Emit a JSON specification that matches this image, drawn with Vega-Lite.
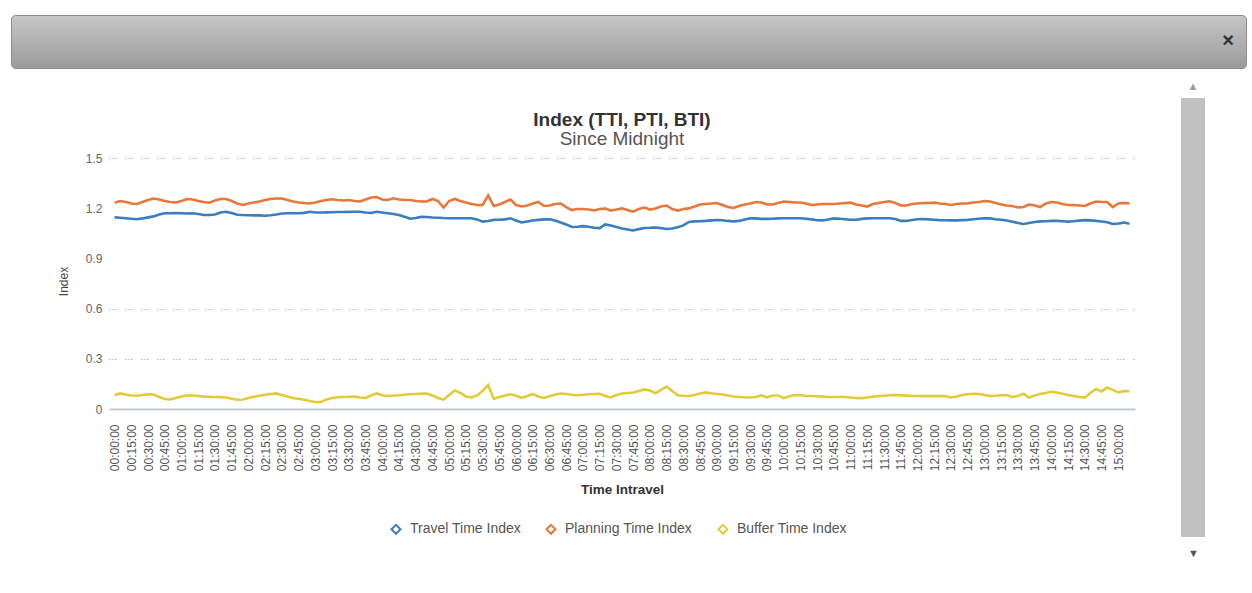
{
 "$schema": "https://vega.github.io/schema/vega-lite/v6.json",
 "background": "white",
 "padding": {"left": 10, "top": 14, "right": 7, "bottom": 5},
 "spacing": 12,
 "config": {"font": "Liberation Sans", "view": {"stroke": null}},
 "vconcat": [
  {
   "width": 1235, "height": 53,
   "view": {"fill": {"gradient": "linear", "x1": 0, "y1": 0, "x2": 0, "y2": 1, "stops": [{"offset": 0, "color": "#c6c6c6"}, {"offset": 1, "color": "#9b9b9b"}]}, "stroke": "#8c8c8c", "cornerRadius": 4},
   "title": {"text": "×", "anchor": "end", "orient": "top", "offset": -26, "baseline": "middle", "dx": -12, "dy": 20, "fontSize": 20, "fontWeight": "bold", "color": "#333"},
   "data": {"values": []},
   "mark": "rect",
   "encoding": {}
  },
  {
   "spacing": 43,
   "hconcat": [
    {
     "width": 1124, "height": 311,
     "title": {"text": "Index (TTI, PTI, BTI)", "subtitle": "Since Midnight", "frame": "group", "anchor": "middle", "dx": 49, "offset": -51, "fontSize": 19, "fontWeight": "bold", "color": "#333", "subtitleFontSize": 19, "subtitleColor": "#555", "subtitlePadding": 0},
     "data": {"values": [
{"t":"00:00:00","tti":1.145,"pti":1.233,"bti":0.084},
{"t":"00:05:00","tti":1.143,"pti":1.243,"bti":0.093},
{"t":"00:10:00","tti":1.140,"pti":1.237,"bti":0.087},
{"t":"00:15:00","tti":1.137,"pti":1.228,"bti":0.081},
{"t":"00:20:00","tti":1.134,"pti":1.225,"bti":0.079},
{"t":"00:25:00","tti":1.139,"pti":1.237,"bti":0.084},
{"t":"00:30:00","tti":1.145,"pti":1.249,"bti":0.088},
{"t":"00:35:00","tti":1.151,"pti":1.258,"bti":0.087},
{"t":"00:40:00","tti":1.162,"pti":1.252,"bti":0.072},
{"t":"00:45:00","tti":1.170,"pti":1.243,"bti":0.060},
{"t":"00:50:00","tti":1.170,"pti":1.237,"bti":0.057},
{"t":"00:55:00","tti":1.171,"pti":1.234,"bti":0.066},
{"t":"01:00:00","tti":1.170,"pti":1.243,"bti":0.075},
{"t":"01:05:00","tti":1.168,"pti":1.255,"bti":0.082},
{"t":"01:10:00","tti":1.170,"pti":1.252,"bti":0.081},
{"t":"01:15:00","tti":1.165,"pti":1.243,"bti":0.078},
{"t":"01:20:00","tti":1.159,"pti":1.237,"bti":0.074},
{"t":"01:25:00","tti":1.159,"pti":1.233,"bti":0.073},
{"t":"01:30:00","tti":1.162,"pti":1.246,"bti":0.072},
{"t":"01:35:00","tti":1.174,"pti":1.255,"bti":0.071},
{"t":"01:40:00","tti":1.179,"pti":1.255,"bti":0.069},
{"t":"01:45:00","tti":1.171,"pti":1.243,"bti":0.061},
{"t":"01:50:00","tti":1.161,"pti":1.228,"bti":0.055},
{"t":"01:55:00","tti":1.159,"pti":1.219,"bti":0.057},
{"t":"02:00:00","tti":1.158,"pti":1.228,"bti":0.066},
{"t":"02:05:00","tti":1.157,"pti":1.234,"bti":0.073},
{"t":"02:10:00","tti":1.157,"pti":1.240,"bti":0.079},
{"t":"02:15:00","tti":1.155,"pti":1.249,"bti":0.085},
{"t":"02:20:00","tti":1.158,"pti":1.255,"bti":0.090},
{"t":"02:25:00","tti":1.162,"pti":1.258,"bti":0.093},
{"t":"02:30:00","tti":1.168,"pti":1.258,"bti":0.084},
{"t":"02:35:00","tti":1.170,"pti":1.249,"bti":0.075},
{"t":"02:40:00","tti":1.170,"pti":1.240,"bti":0.066},
{"t":"02:45:00","tti":1.170,"pti":1.234,"bti":0.061},
{"t":"02:50:00","tti":1.172,"pti":1.231,"bti":0.055},
{"t":"02:55:00","tti":1.179,"pti":1.229,"bti":0.048},
{"t":"03:00:00","tti":1.174,"pti":1.234,"bti":0.042},
{"t":"03:05:00","tti":1.174,"pti":1.243,"bti":0.042},
{"t":"03:10:00","tti":1.175,"pti":1.249,"bti":0.057},
{"t":"03:15:00","tti":1.176,"pti":1.253,"bti":0.066},
{"t":"03:20:00","tti":1.177,"pti":1.249,"bti":0.070},
{"t":"03:25:00","tti":1.177,"pti":1.246,"bti":0.072},
{"t":"03:30:00","tti":1.178,"pti":1.249,"bti":0.073},
{"t":"03:35:00","tti":1.179,"pti":1.243,"bti":0.074},
{"t":"03:40:00","tti":1.179,"pti":1.240,"bti":0.069},
{"t":"03:45:00","tti":1.174,"pti":1.252,"bti":0.066},
{"t":"03:50:00","tti":1.171,"pti":1.264,"bti":0.081},
{"t":"03:55:00","tti":1.179,"pti":1.267,"bti":0.093},
{"t":"04:00:00","tti":1.174,"pti":1.252,"bti":0.082},
{"t":"04:05:00","tti":1.170,"pti":1.249,"bti":0.078},
{"t":"04:10:00","tti":1.165,"pti":1.259,"bti":0.081},
{"t":"04:15:00","tti":1.159,"pti":1.252,"bti":0.082},
{"t":"04:20:00","tti":1.149,"pti":1.249,"bti":0.085},
{"t":"04:25:00","tti":1.137,"pti":1.249,"bti":0.088},
{"t":"04:30:00","tti":1.141,"pti":1.243,"bti":0.090},
{"t":"04:35:00","tti":1.148,"pti":1.240,"bti":0.092},
{"t":"04:40:00","tti":1.147,"pti":1.240,"bti":0.093},
{"t":"04:45:00","tti":1.144,"pti":1.255,"bti":0.081},
{"t":"04:50:00","tti":1.143,"pti":1.243,"bti":0.066},
{"t":"04:55:00","tti":1.141,"pti":1.204,"bti":0.057},
{"t":"05:00:00","tti":1.140,"pti":1.243,"bti":0.084},
{"t":"05:05:00","tti":1.140,"pti":1.255,"bti":0.111},
{"t":"05:10:00","tti":1.140,"pti":1.243,"bti":0.096},
{"t":"05:15:00","tti":1.140,"pti":1.234,"bti":0.075},
{"t":"05:20:00","tti":1.140,"pti":1.225,"bti":0.069},
{"t":"05:25:00","tti":1.133,"pti":1.219,"bti":0.081},
{"t":"05:30:00","tti":1.120,"pti":1.219,"bti":0.108},
{"t":"05:35:00","tti":1.124,"pti":1.276,"bti":0.143},
{"t":"05:40:00","tti":1.130,"pti":1.213,"bti":0.060},
{"t":"05:45:00","tti":1.131,"pti":1.222,"bti":0.072},
{"t":"05:50:00","tti":1.133,"pti":1.237,"bti":0.081},
{"t":"05:55:00","tti":1.140,"pti":1.252,"bti":0.088},
{"t":"06:00:00","tti":1.127,"pti":1.219,"bti":0.079},
{"t":"06:05:00","tti":1.115,"pti":1.210,"bti":0.066},
{"t":"06:10:00","tti":1.121,"pti":1.216,"bti":0.078},
{"t":"06:15:00","tti":1.127,"pti":1.228,"bti":0.090},
{"t":"06:20:00","tti":1.130,"pti":1.237,"bti":0.075},
{"t":"06:25:00","tti":1.133,"pti":1.213,"bti":0.066},
{"t":"06:30:00","tti":1.134,"pti":1.216,"bti":0.076},
{"t":"06:35:00","tti":1.127,"pti":1.225,"bti":0.087},
{"t":"06:40:00","tti":1.115,"pti":1.228,"bti":0.093},
{"t":"06:45:00","tti":1.103,"pti":1.207,"bti":0.090},
{"t":"06:50:00","tti":1.088,"pti":1.189,"bti":0.085},
{"t":"06:55:00","tti":1.089,"pti":1.195,"bti":0.082},
{"t":"07:00:00","tti":1.093,"pti":1.195,"bti":0.085},
{"t":"07:05:00","tti":1.089,"pti":1.192,"bti":0.088},
{"t":"07:10:00","tti":1.083,"pti":1.186,"bti":0.090},
{"t":"07:15:00","tti":1.081,"pti":1.195,"bti":0.091},
{"t":"07:20:00","tti":1.103,"pti":1.198,"bti":0.078},
{"t":"07:25:00","tti":1.097,"pti":1.186,"bti":0.069},
{"t":"07:30:00","tti":1.088,"pti":1.192,"bti":0.084},
{"t":"07:35:00","tti":1.079,"pti":1.199,"bti":0.093},
{"t":"07:40:00","tti":1.073,"pti":1.189,"bti":0.096},
{"t":"07:45:00","tti":1.067,"pti":1.179,"bti":0.099},
{"t":"07:50:00","tti":1.075,"pti":1.195,"bti":0.108},
{"t":"07:55:00","tti":1.082,"pti":1.204,"bti":0.117},
{"t":"08:00:00","tti":1.083,"pti":1.192,"bti":0.111},
{"t":"08:05:00","tti":1.085,"pti":1.198,"bti":0.094},
{"t":"08:10:00","tti":1.081,"pti":1.210,"bti":0.114},
{"t":"08:15:00","tti":1.076,"pti":1.216,"bti":0.134},
{"t":"08:20:00","tti":1.079,"pti":1.195,"bti":0.108},
{"t":"08:25:00","tti":1.086,"pti":1.186,"bti":0.082},
{"t":"08:30:00","tti":1.097,"pti":1.195,"bti":0.079},
{"t":"08:35:00","tti":1.118,"pti":1.199,"bti":0.078},
{"t":"08:40:00","tti":1.121,"pti":1.210,"bti":0.084},
{"t":"08:45:00","tti":1.122,"pti":1.222,"bti":0.093},
{"t":"08:50:00","tti":1.124,"pti":1.225,"bti":0.099},
{"t":"08:55:00","tti":1.127,"pti":1.228,"bti":0.094},
{"t":"09:00:00","tti":1.129,"pti":1.231,"bti":0.090},
{"t":"09:05:00","tti":1.128,"pti":1.219,"bti":0.087},
{"t":"09:10:00","tti":1.124,"pti":1.207,"bti":0.081},
{"t":"09:15:00","tti":1.121,"pti":1.201,"bti":0.075},
{"t":"09:20:00","tti":1.124,"pti":1.213,"bti":0.072},
{"t":"09:25:00","tti":1.133,"pti":1.222,"bti":0.070},
{"t":"09:30:00","tti":1.139,"pti":1.228,"bti":0.069},
{"t":"09:35:00","tti":1.139,"pti":1.237,"bti":0.072},
{"t":"09:40:00","tti":1.136,"pti":1.234,"bti":0.082},
{"t":"09:45:00","tti":1.136,"pti":1.222,"bti":0.069},
{"t":"09:50:00","tti":1.137,"pti":1.222,"bti":0.081},
{"t":"09:55:00","tti":1.139,"pti":1.231,"bti":0.081},
{"t":"10:00:00","tti":1.140,"pti":1.240,"bti":0.065},
{"t":"10:05:00","tti":1.140,"pti":1.237,"bti":0.076},
{"t":"10:10:00","tti":1.140,"pti":1.234,"bti":0.084},
{"t":"10:15:00","tti":1.140,"pti":1.234,"bti":0.082},
{"t":"10:20:00","tti":1.137,"pti":1.228,"bti":0.079},
{"t":"10:25:00","tti":1.133,"pti":1.219,"bti":0.078},
{"t":"10:30:00","tti":1.128,"pti":1.222,"bti":0.076},
{"t":"10:35:00","tti":1.127,"pti":1.225,"bti":0.074},
{"t":"10:40:00","tti":1.133,"pti":1.225,"bti":0.072},
{"t":"10:45:00","tti":1.139,"pti":1.225,"bti":0.072},
{"t":"10:50:00","tti":1.137,"pti":1.228,"bti":0.072},
{"t":"10:55:00","tti":1.134,"pti":1.231,"bti":0.072},
{"t":"11:00:00","tti":1.131,"pti":1.233,"bti":0.069},
{"t":"11:05:00","tti":1.131,"pti":1.222,"bti":0.066},
{"t":"11:10:00","tti":1.136,"pti":1.216,"bti":0.065},
{"t":"11:15:00","tti":1.139,"pti":1.210,"bti":0.069},
{"t":"11:20:00","tti":1.140,"pti":1.225,"bti":0.073},
{"t":"11:25:00","tti":1.140,"pti":1.231,"bti":0.077},
{"t":"11:30:00","tti":1.140,"pti":1.237,"bti":0.079},
{"t":"11:35:00","tti":1.140,"pti":1.241,"bti":0.082},
{"t":"11:40:00","tti":1.136,"pti":1.231,"bti":0.084},
{"t":"11:45:00","tti":1.124,"pti":1.216,"bti":0.082},
{"t":"11:50:00","tti":1.124,"pti":1.216,"bti":0.080},
{"t":"11:55:00","tti":1.130,"pti":1.225,"bti":0.078},
{"t":"12:00:00","tti":1.134,"pti":1.228,"bti":0.078},
{"t":"12:05:00","tti":1.135,"pti":1.231,"bti":0.077},
{"t":"12:10:00","tti":1.133,"pti":1.231,"bti":0.077},
{"t":"12:15:00","tti":1.131,"pti":1.233,"bti":0.077},
{"t":"12:20:00","tti":1.129,"pti":1.228,"bti":0.077},
{"t":"12:25:00","tti":1.128,"pti":1.225,"bti":0.078},
{"t":"12:30:00","tti":1.127,"pti":1.219,"bti":0.069},
{"t":"12:35:00","tti":1.127,"pti":1.225,"bti":0.075},
{"t":"12:40:00","tti":1.129,"pti":1.228,"bti":0.084},
{"t":"12:45:00","tti":1.130,"pti":1.229,"bti":0.088},
{"t":"12:50:00","tti":1.134,"pti":1.234,"bti":0.091},
{"t":"12:55:00","tti":1.137,"pti":1.237,"bti":0.090},
{"t":"13:00:00","tti":1.140,"pti":1.243,"bti":0.084},
{"t":"13:05:00","tti":1.139,"pti":1.240,"bti":0.078},
{"t":"13:10:00","tti":1.134,"pti":1.231,"bti":0.079},
{"t":"13:15:00","tti":1.131,"pti":1.222,"bti":0.082},
{"t":"13:20:00","tti":1.126,"pti":1.216,"bti":0.082},
{"t":"13:25:00","tti":1.119,"pti":1.213,"bti":0.072},
{"t":"13:30:00","tti":1.112,"pti":1.204,"bti":0.078},
{"t":"13:35:00","tti":1.106,"pti":1.207,"bti":0.092},
{"t":"13:40:00","tti":1.112,"pti":1.222,"bti":0.069},
{"t":"13:45:00","tti":1.118,"pti":1.216,"bti":0.081},
{"t":"13:50:00","tti":1.121,"pti":1.207,"bti":0.090},
{"t":"13:55:00","tti":1.122,"pti":1.228,"bti":0.096},
{"t":"14:00:00","tti":1.124,"pti":1.237,"bti":0.103},
{"t":"14:05:00","tti":1.124,"pti":1.234,"bti":0.099},
{"t":"14:10:00","tti":1.122,"pti":1.225,"bti":0.091},
{"t":"14:15:00","tti":1.120,"pti":1.219,"bti":0.084},
{"t":"14:20:00","tti":1.122,"pti":1.219,"bti":0.078},
{"t":"14:25:00","tti":1.126,"pti":1.216,"bti":0.072},
{"t":"14:30:00","tti":1.129,"pti":1.213,"bti":0.068},
{"t":"14:35:00","tti":1.127,"pti":1.228,"bti":0.096},
{"t":"14:40:00","tti":1.124,"pti":1.240,"bti":0.120},
{"t":"14:45:00","tti":1.121,"pti":1.237,"bti":0.105},
{"t":"14:50:00","tti":1.116,"pti":1.237,"bti":0.128},
{"t":"14:55:00","tti":1.106,"pti":1.207,"bti":0.114},
{"t":"15:00:00","tti":1.109,"pti":1.228,"bti":0.099},
{"t":"15:05:00","tti":1.114,"pti":1.231,"bti":0.107},
{"t":"15:10:00","tti":1.107,"pti":1.229,"bti":0.106}
     ]},
     "transform": [{"fold": ["tti", "pti", "bti"], "as": ["series", "value"]}],
     "mark": {"type": "line", "strokeWidth": 2.6},
     "encoding": {
      "x": {"field": "t", "type": "ordinal", "scale": {"type": "point", "padding": 1.15, "range": [98, 1124]},
       "axis": {"values": ["00:00:00","00:15:00","00:30:00","00:45:00","01:00:00","01:15:00","01:30:00","01:45:00","02:00:00","02:15:00","02:30:00","02:45:00","03:00:00","03:15:00","03:30:00","03:45:00","04:00:00","04:15:00","04:30:00","04:45:00","05:00:00","05:15:00","05:30:00","05:45:00","06:00:00","06:15:00","06:30:00","06:45:00","07:00:00","07:15:00","07:30:00","07:45:00","08:00:00","08:15:00","08:30:00","08:45:00","09:00:00","09:15:00","09:30:00","09:45:00","10:00:00","10:15:00","10:30:00","10:45:00","11:00:00","11:15:00","11:30:00","11:45:00","12:00:00","12:15:00","12:30:00","12:45:00","13:00:00","13:15:00","13:30:00","13:45:00","14:00:00","14:15:00","14:30:00","14:45:00","15:00:00"],
        "labelAngle": 270, "labelOverlap": false, "labelFontSize": 12, "labelColor": "#555", "labelPadding": 15, "ticks": false, "grid": false,
        "domainColor": "#c3cad6", "domainWidth": 2,
        "title": "Time Intravel", "titleFontSize": 13.5, "titleFontWeight": "bold", "titleColor": "#333", "titlePadding": 12}},
      "y": {"field": "value", "type": "quantitative", "scale": {"domain": [0, 1.5], "nice": false, "range": [311, 60]},
       "axis": {"values": [0, 0.3, 0.6, 0.9, 1.2, 1.5], "format": "~g", "domain": false, "offset": -98,
        "grid": true, "gridDash": [1, 2, 1, 2, 1, 9], "gridColor": "#999", "gridWidth": 1,
        "gridOpacity": {"condition": {"test": "datum.value == 0 || datum.value == 0.9 || datum.value == 1.2", "value": 0}, "value": 1},
        "ticks": false, "labelPadding": 7,
        "labelFontSize": 12, "labelColor": "#666",
        "title": "Index", "titleX": -39, "titleY": 183, "titleFontSize": 12, "titleFontWeight": "normal", "titleColor": "#444"}},
      "color": {"field": "series", "type": "nominal",
       "scale": {"domain": ["tti", "pti", "bti"], "range": ["#3a7ebf", "#e8773a", "#e2cb3a"]},
       "legend": {"orient": "none", "legendX": 378, "legendY": 507, "direction": "horizontal", "title": null, "padding": 0,
        "labelExpr": "datum.label == 'tti' ? 'Travel Time Index' : datum.label == 'pti' ? 'Planning Time Index' : 'Buffer Time Index'",
        "symbolType": "diamond", "symbolSize": 80, "symbolStrokeWidth": 2, "symbolFillColor": "white",
        "labelFontSize": 14, "labelColor": "#555", "labelOffset": 7, "columnPadding": 21}}
     }
    },
    {
     "width": 24, "height": 439,
     "view": {"fill": "#c1c1c1", "stroke": null},
     "title": {"text": "▲", "fontSize": 11, "color": "#9a9a9a", "offset": 6},
     "data": {"values": [{}]},
     "mark": {"type": "point", "opacity": 0},
     "encoding": {"x": {"datum": 0, "type": "quantitative", "axis": {"title": "▼", "labels": false, "ticks": false, "domain": false, "grid": false, "titleFontSize": 11, "titleColor": "#555", "titlePadding": 10}}}
    }
   ]
  }
 ]
}
